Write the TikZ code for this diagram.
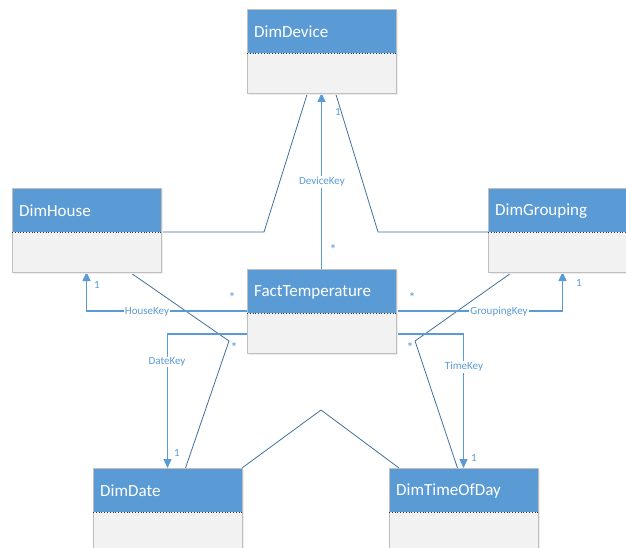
\documentclass[tikz,border=0pt]{standalone}
\usepackage{fontspec}
\setmainfont{Carlito}
\usetikzlibrary{arrows.meta,calc}
\definecolor{hdrblue}{HTML}{5B9BD5}
\definecolor{bodygray}{HTML}{F2F2F2}
\definecolor{edgegray}{HTML}{BFBFBF}
\definecolor{linkblue}{HTML}{5B9BD5}
\definecolor{assocblue}{HTML}{41719C}

% one UML class: name, centre x, centre y, title
\newcommand\umlclass[4]{%
  \node[shadowbox] at (#2+2,#3+2) {};
  \node[classbox] (#1) at (#2,#3) {};
  \fill[hdrblue] (#1.north west) rectangle ($(#1.north east)+(0,44)$);
  \draw[edgegray, line width=0.8pt] (#1.north west) rectangle (#1.south east);
  \draw[black!80, dotted, line width=0.8pt] ($(#1.north west)+(0,44)$) -- ($(#1.north east)+(0,44)$);
  \node[classtitle] (#1-title) at ($(#1.north west)+(7,23)$) {#4};
}

\begin{document}
\begin{tikzpicture}[x=1pt,y=-1pt,
  classbox/.style={draw=edgegray, fill=bodygray, line width=0.8pt, minimum width=149pt, minimum height=84pt, inner sep=0pt, outer sep=0pt},
  shadowbox/.style={fill=black!7, minimum width=149pt, minimum height=84pt, inner sep=0pt},
  classtitle/.style={text=white, font=\fontsize{17}{19}\selectfont, anchor=west, inner sep=0pt},
  fk/.style={draw=linkblue, line width=1.3pt, -{Triangle[length=9pt,width=8pt]}},
  assoc/.style={draw=assocblue, line width=0.8pt},
  keylabel/.style={text=linkblue, fill=white, font=\fontsize{11}{13}\selectfont, inner sep=1pt},
  mult/.style={text=linkblue, font=\fontsize{11}{13}\selectfont, inner sep=0pt},
  star/.style={text=linkblue, font=\fontsize{14}{16}\selectfont, inner sep=0pt}]

\clip (0,0) rectangle (626,548);
\fill[white] (0,0) rectangle (626,548);

% invisible placeholders so connectors can be drawn under the boxes
\path (321.5,51) node[classbox, draw=none, fill=none] (device) {};
\path (86.5,230) node[classbox, draw=none, fill=none] (house) {};
\path (321.5,311) node[classbox, draw=none, fill=none] (fact) {};
\path (562.5,230) node[classbox, draw=none, fill=none] (grouping) {};
\path (167.5,510) node[classbox, draw=none, fill=none] (date) {};
\path (463.5,510) node[classbox, draw=none, fill=none] (time) {};

% associations between the dimensions
\draw[assoc] ($(house.north east)+(0,44)$) -- (264,232) -- ($(device.south)+(-14,0)$);
\draw[assoc] ($(grouping.north west)+(0,44)$) -- (378,232) -- ($(device.south)+(14,0)$);
\draw[assoc] ($(house.south)+(43,0)$) -- (229,341) -- ($(date.north)+(18,0)$);
\draw[assoc] ($(grouping.south)+(-50,0)$) -- (415,341) -- ($(time.north)+(-6,0)$);
\draw[assoc] (date.north east) -- (321,410) -- ($(time.north west)+(10,0)$);

% foreign keys of the fact table
\draw[fk] (fact.north) -- (device.south);
\draw[fk] (fact.west) -| (house.south);
\draw[fk] ($(fact.west)+(0,23)$) -| (date.north);
\draw[fk] (fact.east) -| (grouping.south);
\draw[fk] ($(fact.east)+(0,23)$) -| (time.north);

% classes
\umlclass{device}{321.5}{51}{DimDevice}
\umlclass{house}{86.5}{230}{DimHouse}
\umlclass{fact}{321.5}{311}{FactTemperature}
\umlclass{grouping}{562.5}{230}{DimGrouping}
\umlclass{date}{167.5}{510}{DimDate}
\umlclass{time}{463.5}{510}{DimTimeOfDay}

% key labels
\node[keylabel] (lbl-device) at (322,182) {DeviceKey};
\node[keylabel] (lbl-house) at (147,312) {HouseKey};
\node[keylabel] (lbl-grouping) at (499,312) {GroupingKey};
\node[keylabel] (lbl-date) at (167,362) {DateKey};
\node[keylabel] (lbl-time) at (464,367) {TimeKey};

% multiplicities
\node[mult] (m1) at (338,112) {1};
\node[star] (m2) at (333,250) {*};
\node[mult] (m3) at (97,285) {1};
\node[star] (m4) at (232,298) {*};
\node[mult] (m5) at (579,283) {1};
\node[star] (m6) at (412,298) {*};
\node[mult] (m7) at (177,453) {1};
\node[star] (m8) at (234,348) {*};
\node[mult] (m9) at (474,458) {1};
\node[star] (m10) at (410,348) {*};
\end{tikzpicture}
\end{document}
